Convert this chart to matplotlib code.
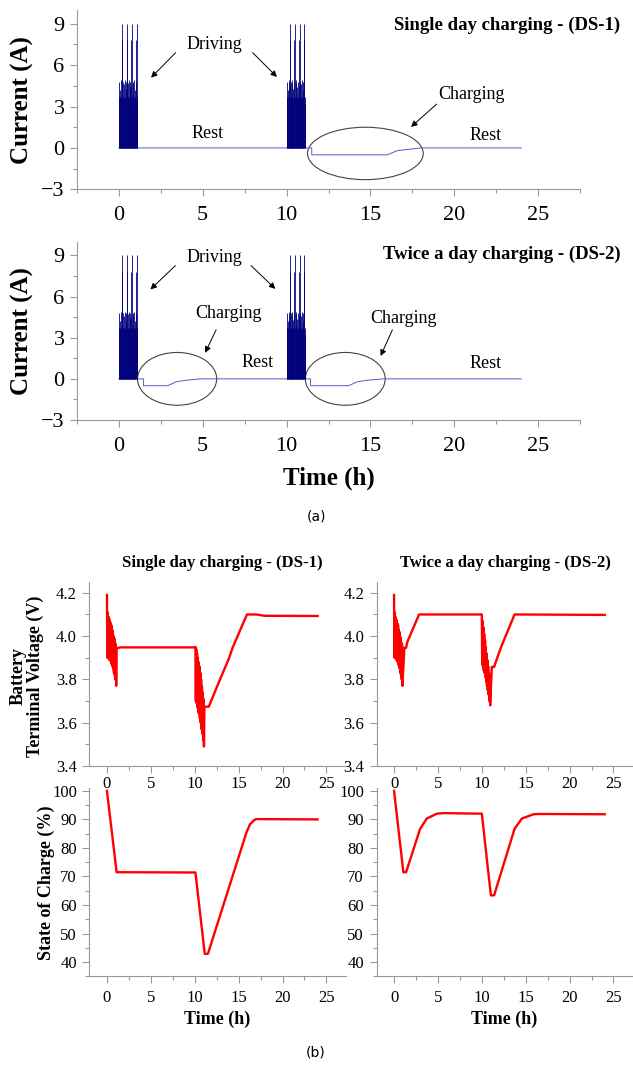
import numpy as np
import matplotlib
matplotlib.use("Agg")
from matplotlib import pyplot as plt
from matplotlib.patches import Ellipse
from matplotlib.ticker import MultipleLocator, FormatStrFormatter

plt.rcParams['font.family'] = ['Liberation Serif', 'DejaVu Serif']

# ---- data ----
drive_starts = [0.0, 10.0]
drive_len = 1.1
# one driving period current pulses (A)
drive_current = [3.7, 4.8, 3.6, 4.2, 3.7, 4.9, 3.7, 4.5, 7.8, 9.0, 3.7, 4.8,
                 3.7, 4.6, 3.7, 4.9, 3.6, 4.3, 3.7, 4.8, 7.8, 9.0, 3.7, 4.7,
                 3.7, 4.9, 3.6, 4.4, 3.7, 4.8, 3.7, 4.5, 7.8, 9.0, 3.7, 4.8,
                 3.7, 4.6, 3.7, 4.9, 3.6, 4.2, 3.7, 4.8, 7.8, 9.0, 3.7, 3.2]

# rest / charging current
ds1_i_t = [0, 11.1, 11.5, 11.5, 16.0, 16.6, 17.3, 18.0, 24.0]
ds1_i = [0, 0, 0, -0.5, -0.5, -0.2, -0.1, 0, 0]
ds2_i_t = [0, 1.47, 1.47, 2.9, 3.4, 4.0, 4.9, 11.43, 11.43, 13.7, 14.2, 14.8, 15.8, 24.0]
ds2_i = [0, 0, -0.5, -0.5, -0.22, -0.1, 0, 0, -0.5, -0.5, -0.22, -0.1, 0, 0]

# terminal voltage during driving (V)
v_drive_a = [4.19, 3.90, 4.11, 3.91, 4.09, 3.90, 4.08, 3.89, 4.07, 3.89, 4.06,
             3.88, 4.05, 3.87, 4.03, 3.86, 4.02, 3.85, 4.00, 3.83, 3.99, 3.82,
             3.97, 3.80, 3.96, 3.77]
ds1_v_drive_b = [3.95, 3.70, 3.94, 3.69, 3.92, 3.67, 3.90, 3.65, 3.88, 3.64,
                 3.86, 3.62, 3.83, 3.60, 3.80, 3.57, 3.77, 3.55, 3.74, 3.52,
                 3.71, 3.49]
ds2_v_drive_b = [4.10, 3.87, 4.07, 3.86, 4.04, 3.84, 4.01, 3.83, 3.98, 3.81,
                 3.95, 3.79, 3.92, 3.77, 3.89, 3.75, 3.86, 3.73, 3.83, 3.70,
                 3.80, 3.68]
# voltage outside driving
ds1_v_rest_t = [1.1, 1.5, 10.08]
ds1_v_rest = [3.943, 3.948, 3.948]
ds1_v_chg_t = [11.1, 11.25, 11.6, 12.85, 13.9, 14.35, 15.95, 17.0, 17.95, 24.0]
ds1_v_chg = [3.67, 3.674, 3.674, 3.797, 3.897, 3.95, 4.10, 4.10, 4.094, 4.093]
ds2_v_rest_t = [1.18, 1.37, 1.52, 2.85, 10.0]
ds2_v_rest = [3.946, 3.946, 3.974, 4.10, 4.10]
ds2_v_chg_t = [11.14, 11.4, 11.8, 12.28, 13.73, 24.0]
ds2_v_chg = [3.858, 3.858, 3.905, 3.958, 4.10, 4.098]

# state of charge (%)
ds1_soc_t = [0, 1.1, 10.08, 11.14, 11.5, 15.9, 16.3, 16.8, 17.0, 24.0]
ds1_soc = [100, 71.5, 71.4, 42.9, 42.9, 85.5, 88.3, 89.8, 90.1, 90.0]
ds2_soc_t = [0, 1.06, 1.37, 2.97, 3.73, 4.87, 5.63, 10.0, 11.03, 11.4, 13.73, 14.56, 15.9, 16.46, 24.0]
ds2_soc = [100, 71.5, 71.5, 86.7, 90.3, 92.0, 92.2, 92.0, 63.4, 63.4, 86.7, 90.3, 91.8, 91.9, 91.8]

fig = plt.figure(figsize=(6.33, 10.72), dpi=100)
H = 1072.0
W = 633.0

def px_axes(l, t, r, b):
    return fig.add_axes([l / W, 1 - b / H, (r - l) / W, (b - t) / H])

def style(ax, size):
    for s in ['top', 'right']:
        ax.spines[s].set_visible(False)
    for s in ['left', 'bottom']:
        ax.spines[s].set_color('#999999')
        ax.spines[s].set_linewidth(0.8)
    ax.tick_params(which='both', direction='out', color='#999999', labelsize=size, width=0.8)
    ax.tick_params(which='major', length=5, pad=4)
    ax.tick_params(which='minor', length=3)

# ---- (a) current ----
navy = '#00007a'
top_axes = [px_axes(77, 10, 580, 189.3), px_axes(77, 241.7, 580, 420)]
rest_t = [ds1_i_t, ds2_i_t]
rest_i = [ds1_i, ds2_i]
for k, ax in enumerate(top_axes):
    ax.plot(rest_t[k], rest_i[k], color='#5a5ac8', lw=0.7)
    for s in drive_starts:
        t = np.linspace(s, s + drive_len, len(drive_current))
        ax.vlines(t, 0, drive_current, color=navy, lw=0.6)
    ax.set_xlim(-2.5, 27.5)
    ax.set_ylim(-3, 10)
    ax.xaxis.set_major_locator(MultipleLocator(5))
    ax.xaxis.set_minor_locator(MultipleLocator(2.5))
    ax.yaxis.set_major_locator(MultipleLocator(3))
    ax.yaxis.set_minor_locator(MultipleLocator(1.5))
    style(ax, 16)
    ax.tick_params(axis='x', pad=7)
    ax.set_ylabel('Current (A)', fontsize=18, fontweight='bold', labelpad=5)

arrow = dict(arrowstyle='-|>', color='black', lw=0.7, mutation_scale=9)
txt = dict(fontsize=13, ha='center', va='center')

ax = top_axes[0]
ax.text(29.9, 8.86, 'Single day charging - (DS-1)', fontsize=13.5, fontweight='bold',
        ha='right', va='center', clip_on=False)
ax.text(5.7, 7.5, 'Driving', **txt)
ax.annotate('', xy=(1.8, 4.95), xytext=(3.5, 7.05), arrowprops=arrow)
ax.annotate('', xy=(9.54, 5.0), xytext=(7.86, 7.05), arrowprops=arrow)
ax.text(5.27, 1.07, 'Rest', **txt)
ax.text(21.05, 3.87, 'Charging', **txt)
ax.annotate('', xy=(17.3, 1.39), xytext=(19.07, 3.31), arrowprops=arrow)
ax.text(21.85, 0.9, 'Rest', **txt)
ax.add_patch(Ellipse((14.7, -0.4), 6.9, 3.8, fill=False, ec='#444444', lw=0.8))

ax = top_axes[1]
ax.text(29.9, 9.1, 'Twice a day charging - (DS-2)', fontsize=13.5, fontweight='bold',
        ha='right', va='center', clip_on=False)
ax.text(5.67, 8.88, 'Driving', **txt)
ax.annotate('', xy=(1.76, 6.38), xytext=(3.49, 8.4), arrowprops=arrow)
ax.annotate('', xy=(9.45, 6.42), xytext=(7.76, 8.4), arrowprops=arrow)
ax.text(6.53, 4.73, 'Charging', **txt)
ax.annotate('', xy=(5.07, 1.72), xytext=(5.87, 3.76), arrowprops=arrow)
ax.text(8.25, 1.16, 'Rest', **txt)
ax.text(17.0, 4.37, 'Charging', **txt)
ax.annotate('', xy=(15.54, 1.48), xytext=(16.38, 3.76), arrowprops=arrow)
ax.text(21.85, 1.12, 'Rest', **txt)
ax.add_patch(Ellipse((3.47, 0.0), 4.72, 3.85, fill=False, ec='#444444', lw=0.8))
ax.add_patch(Ellipse((13.5, 0.0), 4.76, 3.85, fill=False, ec='#444444', lw=0.8))

fig.text(329 / W, 1 - 478 / H, 'Time (h)', fontsize=18, fontweight='bold', ha='center', va='center')
fig.text(316 / W, 1 - 517 / H, '(a)', fontsize=10, ha='center', va='center', family='DejaVu Sans')

# ---- (b) voltage and SOC ----
red = '#ff0000'
lefts = [89.4, 376.5]
widths = 256.3
v_axes = [px_axes(l, 582, l + widths, 766) for l in lefts]
s_axes = [px_axes(l, 788, l + widths, 976.4) for l in lefts]

v_parts = [
    [(np.linspace(0, 1.05, len(v_drive_a)), v_drive_a), (ds1_v_rest_t, ds1_v_rest),
     (np.linspace(10.08, 11.05, len(ds1_v_drive_b)), ds1_v_drive_b), (ds1_v_chg_t, ds1_v_chg)],
    [(np.linspace(0, 0.95, len(v_drive_a)), v_drive_a), (ds2_v_rest_t, ds2_v_rest),
     (np.linspace(10.0, 10.95, len(ds2_v_drive_b)), ds2_v_drive_b), (ds2_v_chg_t, ds2_v_chg)],
]
for k, ax in enumerate(v_axes):
    t = np.concatenate([np.asarray(p[0], float) for p in v_parts[k]])
    v = np.concatenate([np.asarray(p[1], float) for p in v_parts[k]])
    ax.plot(t, v, color=red, lw=1.7)
    ax.set_xlim(-2, 27.2)
    ax.set_ylim(3.4, 4.25)
    ax.xaxis.set_major_locator(MultipleLocator(5))
    ax.xaxis.set_minor_locator(MultipleLocator(2.5))
    ax.yaxis.set_major_locator(MultipleLocator(0.2))
    ax.yaxis.set_minor_locator(MultipleLocator(0.1))
    ax.yaxis.set_major_formatter(FormatStrFormatter('%.1f'))
    style(ax, 12)
    ax.tick_params(axis='x', pad=2)

soc_t = [ds1_soc_t, ds2_soc_t]
soc = [ds1_soc, ds2_soc]
for k, ax in enumerate(s_axes):
    ax.plot(soc_t[k], soc[k], color=red, lw=1.7)
    ax.set_xlim(-2, 27.2)
    ax.set_ylim(35, 101)
    ax.xaxis.set_major_locator(MultipleLocator(5))
    ax.xaxis.set_minor_locator(MultipleLocator(2.5))
    ax.yaxis.set_major_locator(MultipleLocator(10))
    ax.yaxis.set_minor_locator(MultipleLocator(5))
    style(ax, 12)
    ax.tick_params(axis='x', pad=5)

fig.text(222 / W, 1 - 563 / H, 'Single day charging - (DS-1)', fontsize=12, fontweight='bold',
         ha='center', va='center')
fig.text(505 / W, 1 - 563 / H, 'Twice a day charging - (DS-2)', fontsize=12, fontweight='bold',
         ha='center', va='center')
fig.text(27 / W, 1 - 676 / H, 'Battery\nTerminal Voltage (V)', fontsize=13, fontweight='bold',
         rotation=90, ha='center', va='center', multialignment='center', linespacing=1.0)
fig.text(46 / W, 1 - 883 / H, 'State of Charge (%)', fontsize=13, fontweight='bold',
         rotation=90, ha='center', va='center')
fig.text(217 / W, 1 - 1019 / H, 'Time (h)', fontsize=13, fontweight='bold', ha='center', va='center')
fig.text(504 / W, 1 - 1019 / H, 'Time (h)', fontsize=13, fontweight='bold', ha='center', va='center')
fig.text(316 / W, 1 - 1052 / H, '(b)', fontsize=10, ha='center', va='center', family='DejaVu Sans')

fig.savefig('out.png', dpi=100)
